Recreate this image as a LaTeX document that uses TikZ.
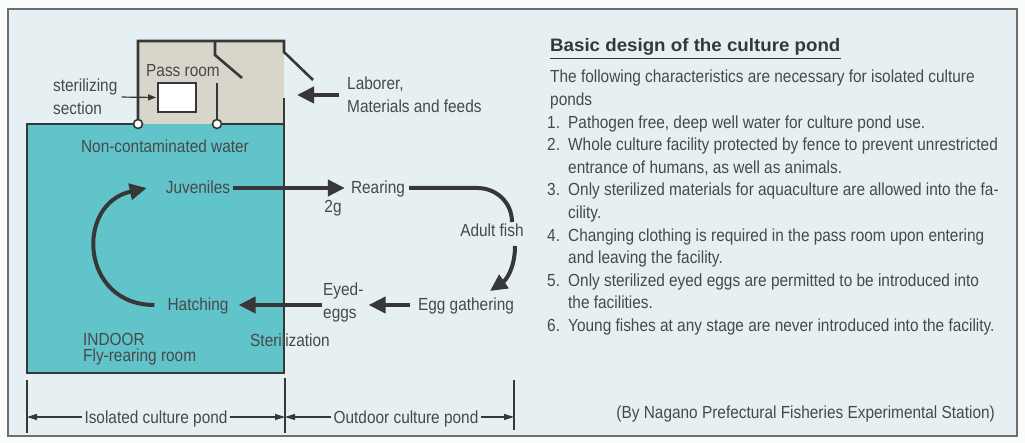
\documentclass[tikz,border=0pt]{standalone}
\usepackage{fontspec}
\setmainfont{Liberation Sans}[FakeStretch=0.88]
\newfontfamily\headfont{Liberation Sans}[FakeStretch=1.04]
\usetikzlibrary{arrows.meta}

\definecolor{paper}{RGB}{250,251,251}
\definecolor{panel}{RGB}{230,240,243}
\definecolor{framegray}{RGB}{110,110,110}
\definecolor{pond}{RGB}{98,196,203}
\definecolor{passroom}{RGB}{216,214,202}
\definecolor{ink}{RGB}{55,55,55}
\definecolor{txt}{RGB}{72,72,72}

\tikzset{
  lbl/.style={font=\fontsize{17.5}{22}\selectfont, text=txt, inner sep=0pt,
              text height=13pt, text depth=1pt},
  mlbl/.style={font=\fontsize{17.5}{23}\selectfont, text=txt, inner sep=0pt, align=left},
  body/.style={font=\fontsize{17.5}{22}\selectfont, text=txt, inner sep=0pt, anchor=base west},
  wall/.style={draw=ink, line width=2.6pt, line join=miter},
  flow/.style={draw=ink, line width=4pt, -{Triangle[length=17pt,width=16pt]}},
  flowplain/.style={draw=ink, line width=4pt},
  thinarrow/.style={draw=ink, line width=1.2pt, -{Triangle[length=8pt,width=6pt]}},
  dimline/.style={draw=ink, line width=1.3pt},
  dimarrow/.style={draw=ink, line width=1.3pt, -{Triangle[length=10pt,width=6pt]}},
  hinge/.style={circle, draw=ink, line width=1.6pt, fill=white, inner sep=0pt, minimum size=9pt},
}

\begin{document}
\begin{tikzpicture}[x=1pt, y=-1pt]
\useasboundingbox (0,0) rectangle (1025,443);

% paper and framed panel
\fill[paper] (0,0) rectangle (1025,443);
\filldraw[fill=panel, draw=framegray, line width=1.5pt] (8,9) rectangle (1017,436);

% indoor pond and pass room
\fill[pond] (27,124) rectangle (284,373);
\fill[passroom] (138,41) rectangle (284,124);

% walls
\draw[wall] (138,124) -- (27,124) -- (27,373) -- (284,373) -- (284,98);
\draw[wall] (217,124) -- (284,124);
\draw[wall] (138,124) -- (138,41) -- (284,41) -- (284,52) -- (313,80);
\draw[wall] (215,41) -- (215,55) -- (242,78);
\draw[wall] (217,83) -- (217,124);
\node[hinge] (hl) at (138,124) {};
\node[hinge] (hr) at (217,124) {};

% sterilizing section
\node[draw=ink, line width=1.8pt, fill=white, minimum width=38pt, minimum height=29pt, inner sep=0pt] (box) at (177,97.5) {};
\node[mlbl, anchor=west] (ster) at (53,97) {sterilizing\\section};
\draw[thinarrow, shorten <=4pt, shorten >=1pt] (ster.east) -- (box.west);

% labels of the pass room
\node[lbl, anchor=base] (pass) at (183,77) {Pass room};
\node[mlbl, anchor=west] (labor) at (347,95) {Laborer,\\Materials and feeds};
\coordinate (doorin) at (297,95);
\draw[flow, shorten <=8pt] (labor.west) -- (doorin);

% labels inside the pond
\node[lbl, anchor=base] (nonc) at (165,153) {Non-contaminated water};
\node[lbl, anchor=base] (juv) at (198,194) {Juveniles};
\node[lbl, anchor=base] (hatch) at (198,311) {Hatching};
\node[lbl, anchor=base west] (indoorA) at (83,345) {INDOOR};
\node[lbl, anchor=base west] (indoorB) at (83,362) {Fly-rearing room};

% outdoor stages
\node[lbl, anchor=base] (rear) at (378,194) {Rearing};
\node[lbl, anchor=base] (twog) at (333,213) {2g};
\node[lbl, anchor=base] (adult) at (492,237) {Adult fish};
\node[lbl, anchor=base] (egg) at (466,311) {Egg gathering};
\node[mlbl, anchor=west] (eyed) at (323,302) {Eyed-\\eggs};
\node[lbl, anchor=base] (steril) at (290,347) {Sterilization};

% life-cycle connectors
\draw[flow, shorten <=3pt, shorten >=6pt] (juv.east) -- (rear.west);
\coordinate (bend) at (477,188);
\coordinate (adulttop) at (512,222);
\draw[flowplain, shorten <=4pt] (rear.east) -- (bend) .. controls (497,188) and (512,203) .. (adulttop);
\coordinate (adultlow) at (515,246);
\coordinate (eggtop) at (490,291);
\draw[flow] (adultlow) .. controls (515,268) and (506,280) .. (eggtop);
\draw[flow, shorten <=8pt, shorten >=5pt] (egg.west) -- (egg.west -| eyed.east);
\draw[flow, shorten <=1pt, shorten >=10pt] (eyed.west |- hatch.east) -- (hatch.east);
\draw[flow] ([xshift=-13pt]hatch.west) .. controls +(-74,0) and +(-72,16) .. ([xshift=-19pt]juv.west);

% extent of the two ponds
\draw[dimline] (27,380) -- (27,433);
\draw[dimline] (285,378) -- (285,433);
\draw[dimline] (514,380) -- (514,430);
\coordinate (tickL) at (27,417);
\coordinate (tickM) at (285,417);
\coordinate (tickR) at (514,417);
\node[lbl, anchor=base] (iso) at (156,423) {Isolated culture pond};
\node[lbl, anchor=base] (out) at (406,423) {Outdoor culture pond};
\draw[dimarrow, shorten <=2pt] (iso.west) -- (tickL);
\draw[dimarrow, shorten <=2pt] (iso.east) -- (tickM);
\draw[dimarrow, shorten <=2pt] (out.west) -- (tickM);
\draw[dimarrow, shorten <=2pt] (out.east) -- (tickR);

% design notes
\node[font=\headfont\bfseries\fontsize{18}{22}\selectfont, text=ink, anchor=base west, inner sep=0pt] (head) at (550,52) {Basic design of the culture pond};
\draw[ink, line width=1.6pt] ([yshift=-2.5pt]head.south west) -- ([yshift=-2.5pt]head.south east);

\node[body] (l0) at (550,83) {The following characteristics are necessary for isolated culture};
\node[body] (l1) at (550,105.6) {ponds};
\node[body] (n1) at (547,128.2) {1.};
\node[body] (t1) at (568,128.2) {Pathogen free, deep well water for culture pond use.};
\node[body] (n2) at (547,150.8) {2.};
\node[body] (t2a) at (568,150.8) {Whole culture facility protected by fence to prevent unrestricted};
\node[body] (t2b) at (568,173.4) {entrance of humans, as well as animals.};
\node[body] (n3) at (547,196) {3.};
\node[body] (t3a) at (568,196) {Only sterilized materials for aquaculture are allowed into the fa-};
\node[body] (t3b) at (568,218.6) {cility.};
\node[body] (n4) at (547,241.2) {4.};
\node[body] (t4a) at (568,241.2) {Changing clothing is required in the pass room upon entering};
\node[body] (t4b) at (568,263.8) {and leaving the facility.};
\node[body] (n5) at (547,286.4) {5.};
\node[body] (t5a) at (568,286.4) {Only sterilized eyed eggs are permitted to be introduced into};
\node[body] (t5b) at (568,309) {the facilities.};
\node[body] (n6) at (547,331.6) {6.};
\node[body] (t6) at (568,331.6) {Young fishes at any stage are never introduced into the facility.};

\node[body, anchor=base east] (credit) at (995,418) {(By Nagano Prefectural Fisheries Experimental Station)};
\end{tikzpicture}
\end{document}
